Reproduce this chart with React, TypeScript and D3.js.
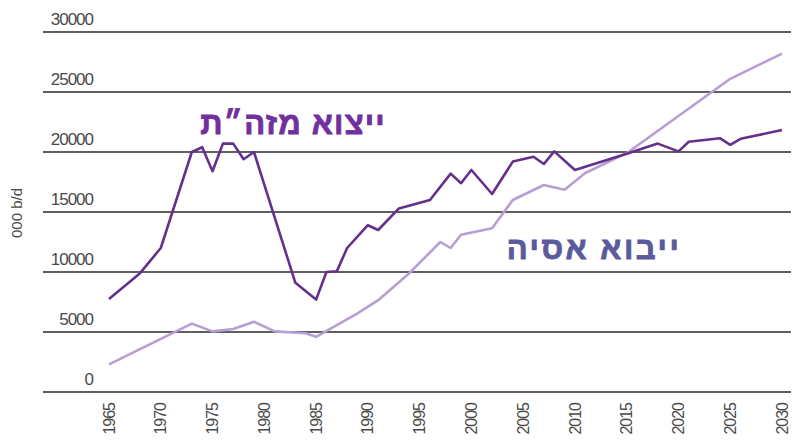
import React, { useEffect, useRef } from 'react';
import * as d3 from 'd3';

const prodYears = [1965, 1968, 1970, 1973, 1974, 1975, 1976, 1977, 1978, 1979, 1983, 1985, 1986, 1987, 1988, 1990, 1991, 1993, 1996, 1998, 1999, 2000, 2002, 2004, 2006, 2007, 2008, 2010, 2015, 2018, 2020, 2021, 2024, 2025, 2026, 2030];
const prodValues = [7750, 9900, 12000, 20000, 20400, 18400, 20700, 20700, 19400, 20000, 9100, 7700, 10000, 10050, 12000, 13900, 13500, 15300, 16000, 18200, 17400, 18500, 16500, 19200, 19600, 19000, 20050, 18500, 19850, 20700, 20050, 20850, 21150, 20600, 21100, 21830];

const asiaYears = [1965, 1973, 1975, 1977, 1979, 1981, 1984, 1985, 1989, 1991, 1994, 1997, 1998, 1999, 2002, 2004, 2007, 2009, 2011, 2015, 2025, 2030];
const asiaValues = [2300, 5700, 5050, 5250, 5850, 5050, 4900, 4600, 6550, 7650, 9900, 12500, 12000, 13100, 13650, 16000, 17250, 16850, 18250, 19900, 26100, 28200];

const yTicks = [0, 5000, 10000, 15000, 20000, 25000, 30000];
const xTicks = [1965, 1970, 1975, 1980, 1985, 1990, 1995, 2000, 2005, 2010, 2015, 2020, 2025, 2030];

const prodLabel = 'ייצוא מזה״ת';
const asiaLabel = 'ייבוא אסיה';

const W = 793, H = 442;

const App = () => {
    const ref = useRef(null);

    const x = d3.scaleLinear().domain([1965, 2030]).range([109, 782]);
    const y = d3.scaleLinear().domain([0, 30000]).range([392, 32]);

    useEffect(() => {
        const g = d3.select(ref.current);
        g.selectAll('*').remove();

        // grid lines + y labels
        g.selectAll('line.grid').data(yTicks).enter().append('line')
            .attr('class', 'grid')
            .attr('x1', 43).attr('x2', 791)
            .attr('y1', d => y(d)).attr('y2', d => y(d))
            .attr('stroke', '#2a2a2a')
            .attr('stroke-width', 1.6);

        g.selectAll('text.ylab').data(yTicks).enter().append('text')
            .attr('class', 'ylab')
            .attr('x', 93)
            .attr('y', d => y(d) - 7)
            .attr('text-anchor', 'end')
            .attr('font-family', 'Liberation Sans, Arial, sans-serif')
            .attr('font-size', 17)
            .attr('letter-spacing', -1)
            .attr('fill', '#4a4a4a')
            .text(d => d);

        g.selectAll('text.xlab').data(xTicks).enter().append('text')
            .attr('class', 'xlab')
            .attr('transform', d => `translate(${x(d)},403) rotate(-90)`)
            .attr('text-anchor', 'end')
            .attr('dy', '0.35em')
            .attr('font-family', 'Liberation Sans, Arial, sans-serif')
            .attr('font-size', 16)
            .attr('letter-spacing', -1)
            .attr('fill', '#4a4a4a')
            .text(d => d);

        g.append('text')
            .attr('transform', 'translate(17,213) rotate(-90)')
            .attr('text-anchor', 'middle')
            .attr('dy', '0.35em')
            .attr('font-family', 'Liberation Sans, Arial, sans-serif')
            .attr('font-size', 15)
            .attr('fill', '#4a4a4a')
            .text('000 b/d');

        const line = d3.line()
            .x(d => x(d[0]))
            .y(d => y(d[1]));

        const asia = asiaYears.map((yr, i) => [yr, asiaValues[i]]);
        const prod = prodYears.map((yr, i) => [yr, prodValues[i]]);

        g.append('path')
            .attr('d', line(asia))
            .attr('fill', 'none')
            .attr('stroke', '#b79ed3')
            .attr('stroke-width', 2.6)
            .attr('stroke-linejoin', 'round');

        g.append('path')
            .attr('d', line(prod))
            .attr('fill', 'none')
            .attr('stroke', '#64308c')
            .attr('stroke-width', 2.6)
            .attr('stroke-linejoin', 'round');

        // hebrew labels, a bit heavier than the font's bold
        g.append('text')
            .attr('x', 293).attr('y', 134)
            .attr('text-anchor', 'middle')
            .attr('font-family', 'Liberation Sans, Arial, sans-serif')
            .attr('font-weight', 'bold')
            .attr('font-size', 31)
            .attr('letter-spacing', 1.2)
            .attr('fill', '#7030a0')
            .attr('stroke', '#7030a0')
            .attr('stroke-width', 0.8)
            .text(prodLabel);

        g.append('text')
            .attr('x', 594).attr('y', 259)
            .attr('text-anchor', 'middle')
            .attr('font-family', 'Liberation Sans, Arial, sans-serif')
            .attr('font-weight', 'bold')
            .attr('font-size', 31)
            .attr('letter-spacing', 2.5)
            .attr('fill', '#5a5a9c')
            .attr('stroke', '#5a5a9c')
            .attr('stroke-width', 0.8)
            .text(asiaLabel);
    }, [x, y]);

    return (
        <svg width={W} height={H} style={{ position: 'absolute', left: 0, top: 0, background: '#fff' }}>
            <g ref={ref} />
        </svg>
    );
};

export default App;
